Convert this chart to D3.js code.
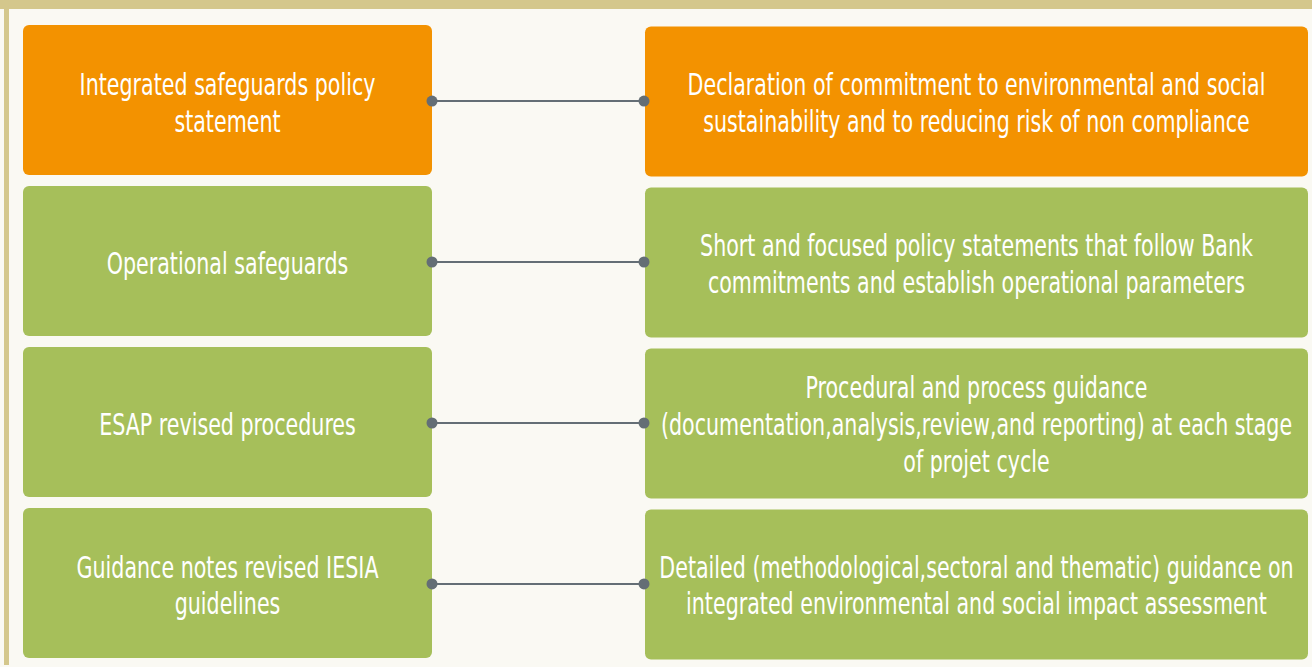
<!DOCTYPE html>
<html>
<head>
<meta charset="utf-8">
<script src="https://cdn.jsdelivr.net/npm/d3@7"></script>
<style>
  html, body { margin: 0; padding: 0; background: #faf9f3; }
  svg { display: block; }
</style>
</head>
<body>
<div id="chart"></div>
<script>
// Left column: instrument names
const instruments = [
    ['Integrated safeguards policy', 'statement'],
    ['Operational safeguards'],
    ['ESAP revised procedures'],
    ['Guidance notes revised IESIA', 'guidelines']
];

// Right column: what each instrument does
const descriptions = [
    ['Declaration of commitment to environmental and social', 'sustainability and to reducing risk of non compliance'],
    ['Short and focused policy statements that follow Bank', 'commitments and establish operational parameters'],
    ['Procedural and process guidance', '(documentation,analysis,review,and reporting) at each stage', 'of projet cycle'],
    ['Detailed (methodological,sectoral and thematic) guidance on', 'integrated environmental and social impact assessment']
];

const levels = ['policy', 'operational', 'procedure', 'guidance'];

const width = 1312, height = 667;
const colors = { orange: '#f39200', green: '#a6bf5a', line: '#646e75', frame: '#d4c78c', bg: '#faf9f3' };

const svg = d3.select('#chart')
    .append('svg')
    .attr('width', width)
    .attr('height', height);

// frame
svg.append('rect').attr('width', width).attr('height', height).attr('fill', colors.bg);
svg.append('rect').attr('x', 0).attr('y', 0).attr('width', width).attr('height', 9).attr('fill', colors.frame);
svg.append('rect').attr('x', 4).attr('y', 0).attr('width', 5).attr('height', 665).attr('fill', colors.frame);

const y = d3.scaleBand()
    .domain(levels)
    .range([25, 658])
    .paddingInner(0.068);

const left = { x0: 23, x1: 432 };
const right = { x0: 645, x1: 1308 };

const rows = svg.selectAll('.row')
    .data(levels.map((k, i) => ({ key: k, left: instruments[i], right: descriptions[i], i })))
    .enter()
    .append('g')
    .attr('class', 'row');

const fillFor = d => d.i === 0 ? colors.orange : colors.green;

rows.append('rect')
    .attr('x', left.x0)
    .attr('y', d => y(d.key))
    .attr('width', left.x1 - left.x0)
    .attr('height', y.bandwidth())
    .attr('rx', 6)
    .attr('fill', fillFor);

rows.append('rect')
    .attr('x', right.x0)
    .attr('y', d => y(d.key) + 1.5)
    .attr('width', right.x1 - right.x0)
    .attr('height', y.bandwidth())
    .attr('rx', 6)
    .attr('fill', fillFor);

const midY = d => y(d.key) + y.bandwidth() / 2;

// connectors
rows.append('line')
    .attr('x1', left.x1)
    .attr('x2', right.x0 - 1)
    .attr('y1', d => midY(d) + 1)
    .attr('y2', d => midY(d) + 1)
    .attr('stroke', colors.line)
    .attr('stroke-width', 2.2);

rows.append('circle')
    .attr('cx', left.x1)
    .attr('cy', d => midY(d) + 1)
    .attr('r', 5.5)
    .attr('fill', colors.line);

rows.append('circle')
    .attr('cx', right.x0 - 1)
    .attr('cy', d => midY(d) + 1)
    .attr('r', 5.5)
    .attr('fill', colors.line);

const lineH = 37;
const squeeze = 0.74;

function addText(sel, cx, linesOf) {
    sel.append('g')
        .attr('transform', d => `translate(${cx},${midY(d)}) scale(${squeeze},1)`)
        .append('text')
        .attr('text-anchor', 'middle')
        .attr('fill', '#ffffff')
        .style('font-family', '"DejaVu Sans Condensed", "Liberation Sans Narrow", sans-serif')
        .style('font-size', '31px')
        .each(function(d) {
            const lines = linesOf(d);
            const t = d3.select(this);
            lines.forEach((ln, j) => {
                t.append('tspan')
                    .attr('x', 0)
                    .attr('y', (j - (lines.length - 1) / 2) * lineH)
                    .attr('dy', '0.42em')
                    .text(ln);
            });
        });
}

addText(rows, (left.x0 + left.x1) / 2, d => d.left);
addText(rows, (right.x0 + right.x1) / 2, d => d.right);
</script>
</body>
</html>
